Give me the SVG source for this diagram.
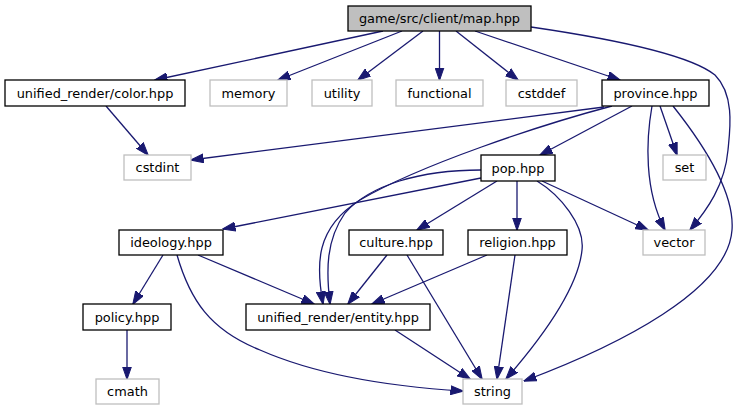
<svg xmlns="http://www.w3.org/2000/svg" width="739" height="411" viewBox="0 0 739 411">
<defs>
<marker id="ah" markerUnits="userSpaceOnUse" markerWidth="13" markerHeight="10" viewBox="0 0 13 10" refX="12.5" refY="5" orient="auto">
<path d="M0,0.5 L13,5 L0,9.5 z" fill="#191970" stroke="#191970" stroke-width="1"/>
</marker>
</defs>
<style>
rect{stroke-width:1.3}
.n rect{fill:#fff;stroke:#000}
.x rect{fill:#fff;stroke:#bfbfbf}
.r rect{fill:#bfbfbf;stroke:#000}
text{font-family:"DejaVu Sans",sans-serif;font-size:12.9px;fill:#000;text-anchor:middle}
#edges path{fill:none;stroke:#191970;stroke-width:1.3;marker-end:url(#ah)}
</style>
<rect width="739" height="411" fill="#fff" style="stroke:none"/>
<g id="edges">
<path d="M383,31 L155,80"/>
<path d="M402,31 L278,80"/>
<path d="M423,31 L358,80"/>
<path d="M439.5,31 L439.5,80"/>
<path d="M456,31 L518,80"/>
<path d="M475,31 L620,80"/>
<path d="M531,27 C620,40 690,55 715,75 C735,95 730,130 728,150 C725,185 707,210 690,230"/>
<path d="M106,106 L148,155"/>
<path d="M604,107 L191,160"/>
<path d="M612,106 C540,125 420,165 360,200 C315,228 316,265 323,304"/>
<path d="M632,106 L540,155"/>
<path d="M660,106 L677,155"/>
<path d="M652,106 C646,140 644,190 665,230"/>
<path d="M673,106 C700,140 735,190 732,230 C728,290 620,345 524,381"/>
<path d="M481,170 C420,170 370,185 345,213 C326,240 326,270 330,304"/>
<path d="M481,178 L223,229"/>
<path d="M497,181 L417,230"/>
<path d="M517,181 L517,230"/>
<path d="M542,181 L648,230"/>
<path d="M537,181 C560,195 585,225 582,250 C578,290 540,340 506,379"/>
<path d="M163,255 L133,304"/>
<path d="M198,255 L314,304"/>
<path d="M177,255 C190,300 210,330 260,350 C310,372 380,386 463,391"/>
<path d="M387,255 L348,304"/>
<path d="M407,255 L482,379"/>
<path d="M487,255 L372,304"/>
<path d="M515,255 L497,379"/>
<path d="M395,330 L470,379"/>
<path d="M127,330 L127,379"/>
</g>
<g id="map" class="r"><rect x="348" y="6" width="183" height="25"/><text x="439.5" y="23">game/src/client/map.hpp</text></g>
<g id="color" class="n"><rect x="5" y="80" width="180" height="26"/><text x="95" y="97.5">unified_render/color.hpp</text></g>
<g id="memory" class="x"><rect x="210" y="80" width="77" height="26"/><text x="248.5" y="97.5">memory</text></g>
<g id="utility" class="x"><rect x="312" y="80" width="60" height="26"/><text x="342" y="97.5">utility</text></g>
<g id="functional" class="x"><rect x="396" y="80" width="87" height="26"/><text x="439.5" y="97.5">functional</text></g>
<g id="cstddef" class="x"><rect x="506" y="80" width="71" height="26"/><text x="541.5" y="97.5">cstddef</text></g>
<g id="province" class="n"><rect x="602" y="80" width="107" height="26"/><text x="655.5" y="97.5">province.hpp</text></g>
<g id="cstdint" class="x"><rect x="124" y="155" width="67" height="25"/><text x="157.5" y="172">cstdint</text></g>
<g id="pop" class="n"><rect x="481" y="155" width="74" height="26"/><text x="518" y="172.5">pop.hpp</text></g>
<g id="set" class="x"><rect x="663" y="155" width="43" height="25"/><text x="684.5" y="172">set</text></g>
<g id="ideology" class="n"><rect x="119" y="230" width="104" height="25"/><text x="171" y="247">ideology.hpp</text></g>
<g id="culture" class="n"><rect x="349" y="230" width="94" height="25"/><text x="396" y="247">culture.hpp</text></g>
<g id="religion" class="n"><rect x="468" y="230" width="99" height="25"/><text x="517.5" y="247">religion.hpp</text></g>
<g id="vector" class="x"><rect x="643" y="230" width="62" height="25"/><text x="674" y="247">vector</text></g>
<g id="policy" class="n"><rect x="83" y="304" width="88" height="26"/><text x="127" y="321.5">policy.hpp</text></g>
<g id="entity" class="n"><rect x="246" y="304" width="184" height="26"/><text x="338" y="321.5">unified_render/entity.hpp</text></g>
<g id="cmath" class="x"><rect x="96" y="379" width="63" height="25"/><text x="127.5" y="396">cmath</text></g>
<g id="string" class="x"><rect x="463" y="379" width="59" height="25"/><text x="492.5" y="396">string</text></g>
</svg>
